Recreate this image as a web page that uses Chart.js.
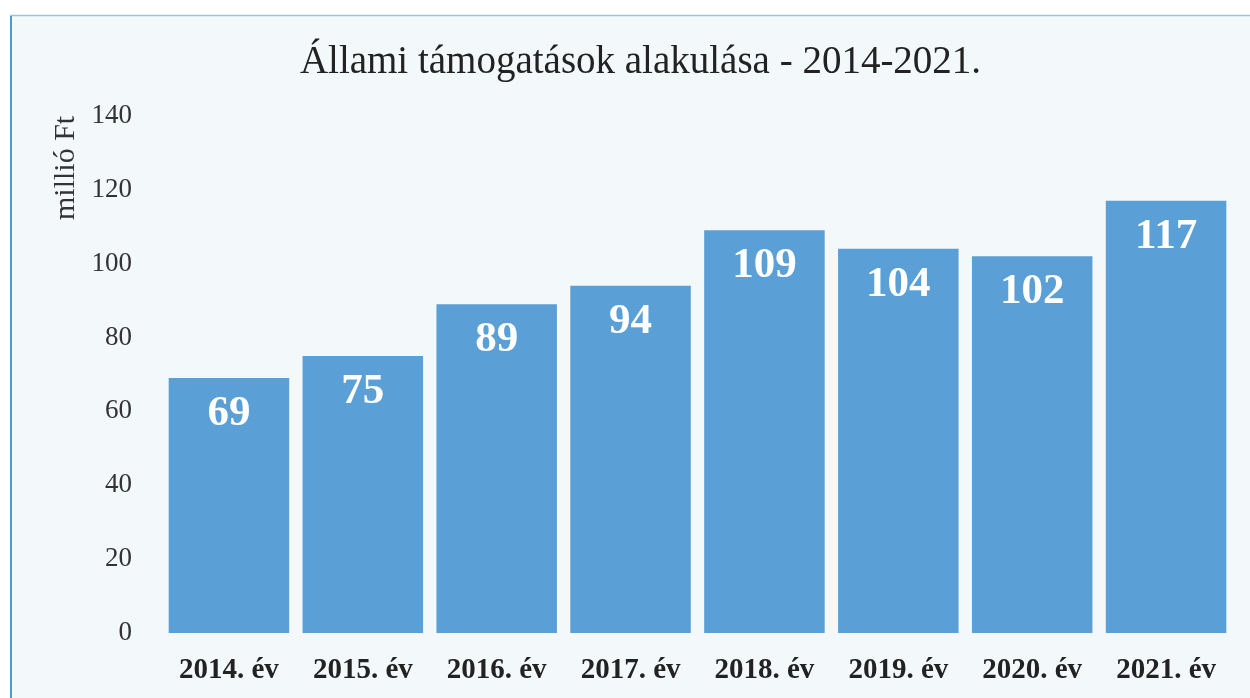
<!DOCTYPE html>
<html><head><meta charset="utf-8">
<script src="https://cdn.jsdelivr.net/npm/chart.js@4"></script>
<style>html,body{margin:0;padding:0;background:#fff;}#wrap{width:1250px;height:698px;position:relative;}</style>
</head><body><div id="wrap"><canvas id="c" width="1250" height="698"></canvas></div>
<script>
const categories = ["2014. év","2015. év","2016. év","2017. év","2018. év","2019. év","2020. év","2021. év"];
const values = [69, 75, 89, 94, 109, 104, 102, 117];
const yTicks = [0, 20, 40, 60, 80, 100, 120, 140];
const titleText = "Állami támogatások alakulása - 2014-2021.";
const yTitle = "millió Ft";

const SERIF = "'Liberation Serif', 'DejaVu Serif', serif";

const framePlugin = {
  id: 'frame',
  beforeDraw(chart) {
    const ctx = chart.ctx;
    ctx.save();
    ctx.fillStyle = '#ffffff';
    ctx.fillRect(0, 0, chart.width, chart.height);
    ctx.fillStyle = '#f3f8fb';
    ctx.fillRect(11, 15, chart.width - 11, chart.height - 15);
    ctx.strokeStyle = '#9cc3dc';
    ctx.lineWidth = 1.5;
    ctx.beginPath();
    ctx.moveTo(11, chart.height);
    ctx.lineTo(11, 15.5);
    ctx.lineTo(chart.width, 15.5);
    ctx.stroke();
    ctx.strokeStyle = '#4f9ad0';
    ctx.lineWidth = 2;
    ctx.beginPath();
    ctx.moveTo(11, chart.height);
    ctx.lineTo(11, 16);
    ctx.stroke();
    ctx.restore();
  }
};

const labelPlugin = {
  id: 'barLabels',
  afterDatasetsDraw(chart) {
    const ctx = chart.ctx;
    const meta = chart.getDatasetMeta(0);
    ctx.save();
    ctx.fillStyle = '#ffffff';
    ctx.font = "bold 43px " + SERIF;
    ctx.textAlign = 'center';
    ctx.textBaseline = 'middle';
    meta.data.forEach((bar, i) => {
      ctx.fillText(String(values[i]), bar.x, bar.y + 36);
    });
    ctx.restore();
  }
};

new Chart(document.getElementById('c'), {
  type: 'bar',
  data: {
    labels: categories,
    datasets: [{
      data: values,
      backgroundColor: '#5a9fd6',
      borderWidth: 0,
      categoryPercentage: 1.0,
      barPercentage: 0.9
    }]
  },
  options: {
    responsive: false,
    animation: false,
    layout: { padding: { left: 48, right: 17, top: 39, bottom: 0 } },
    plugins: {
      legend: { display: false },
      tooltip: { enabled: false },
      title: {
        display: true,
        text: titleText,
        color: '#222',
        font: { family: SERIF, size: 39, weight: 'normal' },
        padding: { top: 0, bottom: 30 }
      }
    },
    scales: {
      x: {
        grid: { display: false, drawTicks: false },
        border: { display: false },
        ticks: {
          color: '#222',
          font: { family: SERIF, size: 29, weight: 'bold' },
          padding: 20,
          maxRotation: 0
        },
        afterFit(scale) { scale.height = 65; }
      },
      y: {
        min: 0, max: 140,
        afterBuildTicks(scale) { scale.ticks = yTicks.map(v => ({ value: v })); },
        grid: { display: false, drawTicks: false },
        border: { display: false },
        ticks: {
          color: '#333',
          font: { family: SERIF, size: 27 },
          padding: 30
        },
        title: {
          display: true,
          text: yTitle,
          align: 'end',
          color: '#333',
          font: { family: SERIF, size: 30 },
          padding: { top: 0, bottom: 0 }
        },
        afterFit(scale) { scale.width = 114; }
      }
    }
  },
  plugins: [framePlugin, labelPlugin]
});
</script></body></html>
